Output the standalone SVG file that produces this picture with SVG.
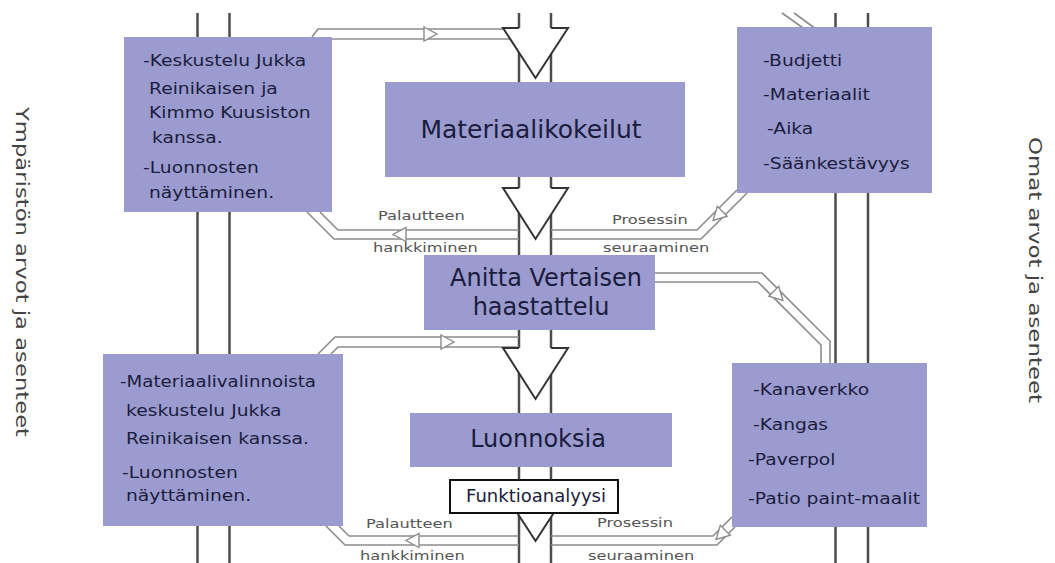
<svg xmlns="http://www.w3.org/2000/svg" xmlns:xlink="http://www.w3.org/1999/xlink" width="1055" height="563" viewBox="0 0 1055 563">
<style>
.vl{stroke:#4d4d4d;stroke-width:2.5;fill:none}
.pipe{stroke:#8c8c8c;stroke-width:1.6;fill:none}
.ah{fill:#fff;stroke:#8c8c8c;stroke-width:1.4}
.head{fill:#fff;stroke:#333;stroke-width:2;stroke-linejoin:miter}
.box{fill:#9b9bd0}
.fbox{fill:#fff;stroke:#111;stroke-width:2}
.big{font-family:'DejaVu Sans',Verdana,sans-serif;font-size:24px;fill:#1c1c3c;text-anchor:middle}
.lst{font-family:'DejaVu Sans',Verdana,sans-serif;font-size:16px;fill:#1c1c3c;transform-box:fill-box;transform-origin:0 50%;transform:scaleX(1.17)}
.lbl{font-family:'DejaVu Sans',Verdana,sans-serif;font-size:12.5px;fill:#555;transform-box:fill-box;transform-origin:0 50%;transform:scaleX(1.3)}
.side{font-family:'DejaVu Sans',Verdana,sans-serif;font-size:18px;fill:#444}
</style>
<defs>
<path id="sa" d="M-6,-7 L7,0 L-6,7 Z"/>
</defs>
<rect width="1055" height="563" fill="#fff"/>

<g id="connectors">
<line class="vl" x1="197.5" y1="13" x2="197.5" y2="563"/>
<line class="vl" x1="229.5" y1="13" x2="229.5" y2="563"/>
<line class="vl" x1="835.5" y1="13" x2="835.5" y2="563"/>
<line class="vl" x1="868" y1="13" x2="868" y2="563"/>
<line class="vl" x1="519" y1="13" x2="519" y2="563"/>
<line class="vl" x1="551" y1="13" x2="551" y2="563"/>
<line class="pipe" x1="782" y1="13" x2="806" y2="30"/>
<line class="pipe" x1="794" y1="13" x2="816" y2="29"/>
<path class="pipe" d="M312,37 L318,29 L519,29"/>
<path class="pipe" d="M332,39 L519,39"/>
<use href="#sa" class="ah" transform="translate(430,34)"/>
<path class="pipe" d="M320,212 L338,230 L519,230"/>
<path class="pipe" d="M307,212 L334,239 L519,239"/>
<use href="#sa" class="ah" transform="translate(400,234.5) rotate(180)"/>
<path class="pipe" d="M551,230 L697,230 L737,190"/>
<path class="pipe" d="M551,239 L701,239 L747,193"/>
<use href="#sa" class="ah" transform="translate(718,215.5) rotate(135)"/>
<path class="pipe" d="M655,273 L762,273 L830,341 L830,363"/>
<path class="pipe" d="M655,282 L758,282 L821,345 L821,363"/>
<use href="#sa" class="ah" transform="translate(778,295.5) rotate(45)"/>
<path class="pipe" d="M318,354 L335,337 L519,337"/>
<path class="pipe" d="M331,354 L338,347 L519,347"/>
<use href="#sa" class="ah" transform="translate(447,342)"/>
<path class="pipe" d="M339,526 L349,536 L519,536"/>
<path class="pipe" d="M326,526 L345,545 L519,545"/>
<use href="#sa" class="ah" transform="translate(413,540.5) rotate(180)"/>
<path class="pipe" d="M551,536 L713,536 L732,517"/>
<path class="pipe" d="M551,545 L717,545 L735,527"/>
<use href="#sa" class="ah" transform="translate(721,534.5) rotate(135)"/>
</g>

<g id="n-keskustelu">
<rect class="box" x="124" y="37" width="208" height="175"/>
<text class="lst" x="143" y="66">-Keskustelu Jukka</text>
<text class="lst" x="149" y="94">Reinikaisen ja</text>
<text class="lst" x="149" y="118">Kimmo Kuusiston</text>
<text class="lst" x="152" y="143">kanssa.</text>
<text class="lst" x="143" y="173">-Luonnosten</text>
<text class="lst" x="149" y="198">näyttäminen.</text>
</g>

<g id="n-budjetti">
<rect class="box" x="737" y="27" width="195" height="166"/>
<text class="lst" x="763" y="66">-Budjetti</text>
<text class="lst" x="763" y="100">-Materiaalit</text>
<text class="lst" x="767" y="134">-Aika</text>
<text class="lst" x="763" y="169">-Säänkestävyys</text>
</g>

<g id="n-materiaalikokeilut">
<rect class="box" x="385" y="82" width="300" height="95"/>
<text class="big" x="531" y="138" style="font-size:25px">Materiaalikokeilut</text>
</g>

<g id="n-anitta">
<rect class="box" x="424" y="255" width="231" height="75"/>
<text class="big" x="546" y="286">Anitta Vertaisen</text>
<text class="big" x="541" y="315">haastattelu</text>
</g>

<g id="n-materiaalivalinnat">
<rect class="box" x="103" y="354" width="240" height="172"/>
<text class="lst" x="120" y="387" style="transform:scaleX(1.14)">-Materiaalivalinnoista</text>
<text class="lst" x="126" y="416">keskustelu Jukka</text>
<text class="lst" x="126" y="444">Reinikaisen kanssa.</text>
<text class="lst" x="122" y="478">-Luonnosten</text>
<text class="lst" x="126" y="501">näyttäminen.</text>
</g>

<g id="n-kanaverkko">
<rect class="box" x="732" y="363" width="195" height="164"/>
<text class="lst" x="753" y="395">-Kanaverkko</text>
<text class="lst" x="753" y="430">-Kangas</text>
<text class="lst" x="748" y="465">-Paverpol</text>
<text class="lst" x="748" y="504">-Patio paint-maalit</text>
</g>

<g id="n-luonnoksia">
<rect class="box" x="410" y="413" width="262" height="54"/>
<text class="big" x="538" y="447">Luonnoksia</text>
</g>

<g id="arrowheads">
<path class="head" d="M519,28 L503,28 L535.5,78 L568,28 L551,28"/>
<path class="head" d="M519,188 L503,188 L535.5,239 L568,188 L551,188"/>
<path class="head" d="M519,348 L503,348 L535.5,399 L568,348 L551,348"/>
<path class="head" d="M519,491 L503,491 L535.5,541 L568,491 L551,491"/>
</g>

<g id="n-funktioanalyysi">
<rect class="fbox" x="450" y="480" width="168" height="33"/>
<text class="big" x="536" y="502" style="font-size:18px">Funktioanalyysi</text>
</g>

<g id="labels">
<text class="lbl" x="378" y="220">Palautteen</text>
<text class="lbl" x="373" y="252">hankkiminen</text>
<text class="lbl" x="612" y="224">Prosessin</text>
<text class="lbl" x="603" y="252">seuraaminen</text>
<text class="lbl" x="366" y="528">Palautteen</text>
<text class="lbl" x="360" y="560">hankkiminen</text>
<text class="lbl" x="597" y="527">Prosessin</text>
<text class="lbl" x="588" y="560">seuraaminen</text>
</g>

<g id="n-ymparisto">
<text class="side" transform="translate(16,272) rotate(90)" x="0" y="0" text-anchor="middle" textLength="330" lengthAdjust="spacingAndGlyphs">Ympäristön arvot ja asenteet</text>
</g>
<g id="n-omat">
<text class="side" transform="translate(1029,270) rotate(90)" x="0" y="0" text-anchor="middle" textLength="266" lengthAdjust="spacingAndGlyphs">Omat arvot ja asenteet</text>
</g>
</svg>
